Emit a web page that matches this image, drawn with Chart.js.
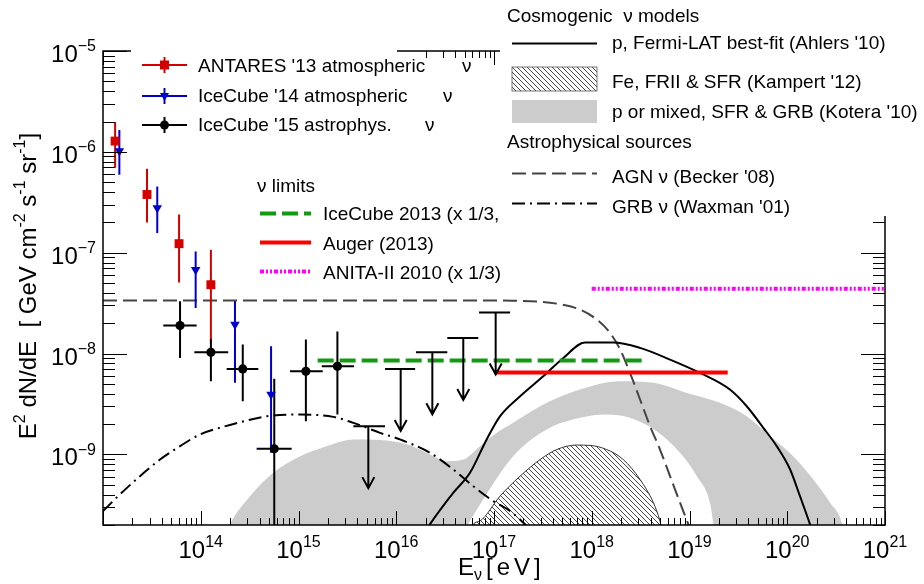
<!DOCTYPE html>
<html>
<head>
<meta charset="utf-8">
<script src="https://cdn.jsdelivr.net/npm/chart.js@4.4.1/dist/chart.umd.min.js"></script>
<style>
  html, body { margin: 0; padding: 0; background: #fff; }
</style>
</head>
<body>
<canvas id="fluxChart" width="924" height="584"></canvas>
<script>
// ─────────────────────────────────────────────
// Data (E in eV, E^2 dN/dE in GeV cm^-2 s^-1 sr^-1)
// ─────────────────────────────────────────────
const antaresE   = [1.33e13, 2.82e13, 6.0e13, 1.27e14];
const antaresF   = [1.28e-6, 3.78e-7, 1.23e-7, 4.82e-8];
const antaresFHi = [1.98e-6, 6.79e-7, 2.39e-7, 1.07e-7];
const antaresFLo = [6.95e-7, 2.0e-7, 5.08e-8, 1.29e-8];

const ic14E   = [1.47e13, 3.59e13, 8.87e13, 2.24e14, 5.24e14];
const ic14F   = [1.02e-6, 2.77e-7, 6.79e-8, 1.94e-8, 3.93e-9];
const ic14FHi = [1.65e-6, 4.54e-7, 1.03e-7, 3.30e-8, 1.18e-8];
const ic14FLo = [5.92e-7, 1.57e-7, 2.83e-8, 5.13e-9, 1.04e-9];

const ic15E   = [6.14e13, 1.27e14, 2.69e14, 5.65e14, 1.19e15, 2.50e15];
const ic15ELo = [4.14e13, 8.6e13, 1.84e14, 3.73e14, 8.19e14, 1.73e15];
const ic15EHi = [9.08e13, 1.91e14, 3.88e14, 8.51e14, 1.77e15, 3.70e15];
const ic15F   = [1.90e-8, 1.03e-8, 7.05e-9, 1.14e-9, 6.68e-9, 7.48e-9];
const ic15FHi = [3.30e-8, 1.4e-8, 1.23e-8, 5.62e-9, 1.38e-8, 1.66e-8];
const ic15FLo = [9.06e-9, 5.32e-9, 3.37e-9, 1.0e-10, 2.14e-9, 2.49e-9];

// IceCube '15 upper limits
const ulE   = [5.18e15, 1.11e16, 2.34e16, 4.85e16, 1.04e17];
const ulELo = [3.64e15, 7.67e15, 1.59e16, 3.33e16, 7.03e16];
const ulEHi = [7.67e15, 1.56e16, 3.33e16, 6.90e16, 1.46e17];
const ulF   = [1.91e-9, 7.05e-9, 1.03e-8, 1.43e-8, 2.56e-8];

// nu limits
const ic13E  = [1.57e15, 3.37e18];
const ic13F  = [8.53e-9, 8.53e-9];
const augerE = [1.02e17, 2.46e19];
const augerF = [6.49e-9, 6.49e-9];
const anitaE = [1.0e18, 1.0e21];
const anitaF = [4.40e-8, 4.40e-8];

// Cosmogenic models
const ahlersE = [2.0e16, 2.21e16, 3.84e16, 5.68e16, 8.41e16, 1.15e17, 1.85e17, 3.19e17, 5.12e17, 8.53e17,
                 1.66e18, 3.12e18, 6.32e18, 1.28e19, 2.59e19, 3.85e19, 5.69e19, 7.80e19, 1.07e20, 1.35e20, 1.71e20, 1.86e20];
const ahlersF = [1.74e-10, 2.03e-10, 4.18e-10, 6.59e-10, 1.41e-9, 2.39e-9, 3.78e-9, 5.96e-9, 9.06e-9, 1.29e-8,
                 1.29e-8, 1.14e-8, 8.73e-9, 6.44e-9, 4.41e-9, 3.01e-9, 1.84e-9, 1.21e-9, 7.10e-10, 3.86e-10, 2.03e-10, 1.58e-10];

const kampertE = [5.89e16, 6.14e16, 7.19e16, 1.15e17, 1.85e17, 2.96e17, 4.38e17, 7.01e17, 9.59e17, 1.42e18,
                  2.10e18, 3.12e18, 4.27e18, 4.99e18, 5.25e18];
const kampertF = [1.78e-10, 2.03e-10, 2.19e-10, 3.86e-10, 6.10e-10, 8.91e-10, 1.12e-9, 1.24e-9, 1.23e-9, 1.12e-9,
                  8.91e-10, 5.65e-10, 3.33e-10, 2.19e-10, 1.78e-10];

const koteraHiE = [1.90e14, 1.99e14, 3.19e14, 5.52e14, 1.04e15, 1.94e15, 3.64e15, 6.82e15, 1.28e16, 2.21e16,
                   3.28e16, 4.85e16, 7.19e16, 1.07e17, 1.57e17, 3.46e17, 7.59e17, 1.95e18, 4.27e18, 9.35e18,
                   2.05e19, 3.85e19, 6.67e19, 1.15e20, 1.85e20, 2.74e20, 3.61e20, 3.80e20];
const koteraHiF = [1.81e-10, 2.03e-10, 3.86e-10, 6.59e-10, 9.62e-10, 1.21e-9, 1.41e-9, 1.39e-9, 1.26e-9, 1.0e-9,
                   8.59e-10, 8.91e-10, 1.21e-9, 1.64e-9, 2.06e-9, 3.25e-9, 4.41e-9, 5.32e-9, 5.13e-9, 4.08e-9,
                   3.25e-9, 2.39e-9, 1.52e-9, 9.62e-10, 5.65e-10, 3.33e-10, 2.11e-10, 1.62e-10];
const koteraLoE = [5.05e16, 7.19e16, 1.57e17, 3.46e17, 7.59e17, 1.42e18, 2.46e18, 4.61e18, 8.0e18, 1.19e19,
                   1.62e19, 1.75e19, 1.82e19];
const koteraLoF = [1.81e-10, 3.20e-10, 9.62e-10, 1.77e-9, 2.31e-9, 2.49e-9, 2.31e-9, 1.70e-9, 1.04e-9, 6.10e-10,
                   3.33e-10, 2.11e-10, 1.62e-10];

// Astrophysical sources
const agnE = [1.0e13, 7.19e16, 1.56e17, 4.38e17, 7.59e17, 1.13e18, 1.54e18, 1.95e18, 2.46e18, 3.12e18,
              3.95e18, 4.99e18, 6.32e18, 8.0e18, 9.73e18, 1.07e19];
const agnF = [3.37e-8, 3.37e-8, 3.35e-8, 3.13e-8, 2.73e-8, 2.17e-8, 1.60e-8, 1.10e-8, 6.44e-9, 3.51e-9,
              1.91e-9, 1.12e-9, 6.11e-10, 3.33e-10, 2.03e-10, 1.58e-10];

const grbE = [1.0e13, 1.49e13, 2.39e13, 3.83e13, 6.14e13, 9.82e13, 1.57e14, 2.52e14, 4.73e14, 1.04e15,
              2.27e15, 3.64e15, 6.82e15, 1.09e16, 2.21e16, 3.84e16, 6.14e16, 9.84e16, 1.46e17, 2.08e17, 2.95e17];
const grbF = [2.75e-10, 4.02e-10, 6.10e-10, 8.91e-10, 1.21e-9, 1.58e-9, 1.84e-9, 2.09e-9, 2.39e-9, 2.49e-9,
              2.36e-9, 2.06e-9, 1.64e-9, 1.41e-9, 1.04e-9, 7.10e-10, 4.85e-10, 3.45e-10, 2.75e-10, 2.03e-10, 1.45e-10];

// Axis decades carrying a label
const xLabelExps = ["14", "15", "16", "17", "18", "19", "20", "21"];
const yLabelExps = ["-9", "-8", "-7", "-6", "-5"];

// ─────────────────────────────────────────────
// Styles
// ─────────────────────────────────────────────
const FONT   = "'Liberation Sans', Arial, Helvetica, sans-serif";
const RED_D  = "#d40000";
const BLUE   = "#0000cc";
const GREEN  = "#139a13";
const RED    = "#ff0000";
const MAG    = "#ff00ff";
const GREY   = "#cccccc";
const DASH_AGN = [14, 6];
const DASH_GRB = [13, 5, 2, 5];
const DASH_IC  = [16, 6];
const DASH_ANI = [4, 2, 2, 2, 2, 2];
const ARROW_LEN = 62;

const pts = (xs, ys) => xs.map((x, i) => ({ x, y: ys[i] }));

function makeHatch() {
  const c = document.createElement("canvas");
  c.width = 5; c.height = 5;
  const g = c.getContext("2d");
  g.strokeStyle = "#333";
  g.lineWidth = 0.9;
  g.beginPath();
  g.moveTo(-1, -1); g.lineTo(6, 6);
  g.moveTo(-1, 4);  g.lineTo(1, 6);
  g.moveTo(4, -1);  g.lineTo(6, 1);
  g.stroke();
  return g.createPattern(c, "repeat");
}
const hatch = makeHatch();

// ─────────────────────────────────────────────
// Rich text helpers (superscript / subscript)
// ─────────────────────────────────────────────
function richWidth(ctx, parts, size) {
  let w = 0;
  for (const [t, k] of parts) {
    ctx.font = `${k ? Math.round(size * 0.65) : size}px ${FONT}`;
    w += ctx.measureText(t).width;
  }
  return w;
}
function drawRich(ctx, parts, x, y, size) {
  let cx = x;
  for (const [t, k] of parts) {
    ctx.font = `${k ? Math.round(size * 0.65) : size}px ${FONT}`;
    const dy = k === "sup" ? -size * 0.45 : k === "sub" ? size * 0.22 : 0;
    ctx.fillText(t, cx, y + dy);
    cx += ctx.measureText(t).width;
  }
  return cx - x;
}

// ─────────────────────────────────────────────
// Error bars + upper limits (drawn before the markers)
// ─────────────────────────────────────────────
function drawErrors(chart) {
  const { ctx, chartArea: a } = chart;
  const sx = chart.scales.x, sy = chart.scales.y;
  const X = v => sx.getPixelForValue(v), Y = v => sy.getPixelForValue(v);
  ctx.save();
  ctx.beginPath();
  ctx.rect(a.left, a.top, a.right - a.left, a.bottom - a.top);
  ctx.clip();
  ctx.lineWidth = 2;
  ctx.setLineDash([]);

  const vbars = (E, lo, hi, color) => {
    ctx.strokeStyle = color;
    ctx.beginPath();
    E.forEach((e, i) => { ctx.moveTo(X(e), Y(lo[i])); ctx.lineTo(X(e), Y(hi[i])); });
    ctx.stroke();
  };
  vbars(antaresE, antaresFLo, antaresFHi, RED_D);
  vbars(ic14E, ic14FLo, ic14FHi, BLUE);
  vbars(ic15E, ic15FLo, ic15FHi, "#000");
  ctx.beginPath();
  ic15E.forEach((e, i) => { ctx.moveTo(X(ic15ELo[i]), Y(ic15F[i])); ctx.lineTo(X(ic15EHi[i]), Y(ic15F[i])); });
  ctx.stroke();

  // upper limits
  ctx.beginPath();
  ulE.forEach((e, i) => {
    const px = X(e), py = Y(ulF[i]);
    ctx.moveTo(X(ulELo[i]), py); ctx.lineTo(X(ulEHi[i]), py);
    ctx.moveTo(px, py); ctx.lineTo(px, py + ARROW_LEN);
    ctx.moveTo(px - 6, py + ARROW_LEN - 11); ctx.lineTo(px, py + ARROW_LEN); ctx.lineTo(px + 6, py + ARROW_LEN - 11);
  });
  ctx.stroke();
  ctx.restore();
}

const errorBarPlugin = {
  id: "errorBars",
  beforeDatasetsDraw(chart) { chart.$errDone = false; },
  beforeDatasetDraw(chart, args) {
    const ds = chart.data.datasets[args.index];
    if (!chart.$errDone && ds.showLine === false) {
      drawErrors(chart);
      chart.$errDone = true;
    }
  }
};

// ─────────────────────────────────────────────
// Frame, ticks, labels, legends
// ─────────────────────────────────────────────
function lineSample(ctx, x1, x2, y, color, width, dash) {
  ctx.save();
  ctx.strokeStyle = color; ctx.lineWidth = width; ctx.setLineDash(dash || []);
  ctx.beginPath(); ctx.moveTo(x1, y); ctx.lineTo(x2, y); ctx.stroke();
  ctx.restore();
}

function markerSample(ctx, x, y, color, kind) {
  lineSample(ctx, 142, 187, y, color, 2);
  ctx.save();
  ctx.strokeStyle = color; ctx.fillStyle = color; ctx.lineWidth = 2;
  ctx.beginPath(); ctx.moveTo(x, y - 8); ctx.lineTo(x, y + 8); ctx.stroke();
  ctx.beginPath();
  if (kind === "rect") ctx.rect(x - 4.5, y - 4.5, 9, 9);
  else if (kind === "tri") { ctx.moveTo(x - 4.5, y - 3); ctx.lineTo(x + 4.5, y - 3); ctx.lineTo(x, y + 5); ctx.closePath(); }
  else ctx.arc(x, y, 4.5, 0, Math.PI * 2);
  ctx.fill();
  ctx.restore();
}

const framePlugin = {
  id: "frame",
  afterDraw(chart) {
    const { ctx, chartArea: a } = chart;
    const sx = chart.scales.x, sy = chart.scales.y;
    ctx.save();
    ctx.strokeStyle = "#000";
    ctx.fillStyle = "#000";
    ctx.lineWidth = 1;
    ctx.setLineDash([]);

    // ticks
    ctx.beginPath();
    for (let d = 13; d <= 21; d++) {
      for (let k = 1; k <= 9; k++) {
        const v = k * Math.pow(10, d);
        if (v > sx.max * 1.0001) break;
        const px = Math.round(sx.getPixelForValue(v)) + 0.5;
        const len = k === 1 ? 14 : 7;
        ctx.moveTo(px, a.bottom); ctx.lineTo(px, a.bottom - len);
        ctx.moveTo(px, a.top); ctx.lineTo(px, a.top + len);
      }
    }
    for (let d = -10; d <= -5; d++) {
      for (let k = 1; k <= 9; k++) {
        const v = k * Math.pow(10, d);
        if (v < sy.min * 0.999 || v > sy.max * 1.0001) continue;
        const py = Math.round(sy.getPixelForValue(v)) + 0.5;
        const len = k === 1 ? 24 : 12;
        ctx.moveTo(a.left, py); ctx.lineTo(a.left + len, py);
        ctx.moveTo(a.right, py); ctx.lineTo(a.right - len, py);
      }
    }
    ctx.stroke();

    // frame
    ctx.lineWidth = 1.5;
    ctx.strokeRect(a.left, a.top, a.right - a.left, a.bottom - a.top);

    // tick labels
    ctx.textBaseline = "alphabetic";
    ctx.textAlign = "left";
    xLabelExps.forEach(e => {
      const parts = [["10", ""], [e, "sup"]];
      const w = richWidth(ctx, parts, 24);
      const px = sx.getPixelForValue(Math.pow(10, +e));
      drawRich(ctx, parts, px - w / 2, a.bottom + 33, 24);
    });
    yLabelExps.forEach(e => {
      const parts = [["10", ""], [e.replace("-", "\u2212"), "sup"]];
      const w = richWidth(ctx, parts, 24);
      const py = sy.getPixelForValue(Math.pow(10, +e));
      drawRich(ctx, parts, 96 - w, py + 11, 24);
    });

    // axis titles
    drawRich(ctx, [["E", ""], ["\u03bd", "sub"]], 458, 575, 24);
    ctx.save();
    ctx.font = `24px ${FONT}`;
    ctx.letterSpacing = "4px";
    ctx.fillText("[eV]", 486, 575);
    ctx.restore();

    const yTitle = [["E", ""], ["2", "sup"], [" dN/dE  [ GeV cm", ""], ["-2", "sup"], [" s", ""],
                    ["-1", "sup"], [" sr", ""], ["-1", "sup"], ["]", ""]];
    ctx.save();
    ctx.translate(36, 286);
    ctx.rotate(-Math.PI / 2);
    const tw = richWidth(ctx, yTitle, 24);
    drawRich(ctx, yTitle, -tw / 2, 0, 24);
    ctx.restore();

    // legend boxes hide the frame behind them
    ctx.fillStyle = "#fff";
    ctx.fillRect(131, 38, 266, 102);
    ctx.fillRect(500, 0, 424, 216);
    ctx.fillStyle = "#000";

    // legend: measurements
    markerSample(ctx, 164.5, 65, RED_D, "rect");
    markerSample(ctx, 164.5, 96, BLUE, "tri");
    markerSample(ctx, 164.5, 125, "#000", "circ");
    ctx.font = `19px ${FONT}`;
    ctx.fillText("ANTARES '13 atmospheric", 198, 72);
    ctx.fillText("\u03bd", 462, 72);
    ctx.fillText("IceCube '14 atmospheric", 198, 102);
    ctx.fillText("\u03bd", 443, 102);
    ctx.fillText("IceCube '15 astrophys.", 198, 131);
    ctx.fillText("\u03bd", 425, 131);

    // legend: nu limits
    ctx.fillText("\u03bd limits", 257, 192);
    lineSample(ctx, 260, 311, 213.5, GREEN, 4, DASH_IC);
    lineSample(ctx, 260, 311, 242.5, RED, 4);
    lineSample(ctx, 260, 311, 271.5, MAG, 4, DASH_ANI);
    ctx.fillStyle = "#000";
    ctx.font = `19px ${FONT}`;
    ctx.fillText("IceCube 2013 (x 1/3,", 323, 220);
    ctx.fillText("Auger (2013)", 323, 250);
    ctx.fillText("ANITA-II 2010 (x 1/3)", 323, 279);

    // legend: models
    ctx.fillText("Cosmogenic  \u03bd models", 507, 22);
    lineSample(ctx, 512, 597, 43.5, "#000", 2);
    ctx.fillStyle = hatch;
    ctx.fillRect(512, 67, 85, 24);
    ctx.lineWidth = 0.8; ctx.strokeStyle = "#555";
    ctx.strokeRect(512, 67, 85, 24);
    ctx.fillStyle = GREY;
    ctx.fillRect(512, 100, 85, 23);
    ctx.fillStyle = "#000";
    ctx.fillText("p, Fermi-LAT best-fit (Ahlers '10)", 612, 49);
    ctx.fillText("Fe, FRII & SFR (Kampert '12)", 612, 88);
    ctx.fillText("p or mixed, SFR & GRB (Kotera '10)", 612, 118);
    ctx.fillText("Astrophysical sources", 507, 148);
    lineSample(ctx, 512, 597, 173.5, "#444", 2, DASH_AGN);
    lineSample(ctx, 512, 597, 203.5, "#000", 2, DASH_GRB);
    ctx.fillText("AGN \u03bd (Becker '08)", 612, 183);
    ctx.fillText("GRB \u03bd (Waxman '01)", 612, 213);
    ctx.restore();
  }
};

// ─────────────────────────────────────────────
// Chart
// ─────────────────────────────────────────────
const curve = (label, E, F, extra) => Object.assign({
  label, data: pts(E, F), pointRadius: 0, fill: false, borderWidth: 2,
  cubicInterpolationMode: "monotone", clip: 0
}, extra);

new Chart(document.getElementById("fluxChart"), {
  type: "line",
  data: {
    datasets: [
      { label: "ANTARES '13 atmospheric", data: pts(antaresE, antaresF), showLine: false,
        pointStyle: "rect", pointRadius: 6.3, backgroundColor: RED_D, borderColor: RED_D, borderWidth: 0, order: 2 },
      { label: "IceCube '14 atmospheric", data: pts(ic14E, ic14F), showLine: false,
        pointStyle: "triangle", rotation: 180, pointRadius: 5.5, backgroundColor: BLUE, borderColor: BLUE, borderWidth: 0, order: 1 },
      { label: "IceCube '15 astrophys.", data: pts(ic15E, ic15F), showLine: false,
        pointStyle: "circle", pointRadius: 4.6, backgroundColor: "#000", borderColor: "#000", borderWidth: 0, order: 0 },

      curve("Kotera upper", koteraHiE, koteraHiF, { fill: "start", backgroundColor: GREY, borderWidth: 0, borderColor: GREY, order: 20 }),
      curve("Kotera lower", koteraLoE, koteraLoF, { fill: "start", backgroundColor: "#fff", borderWidth: 0, borderColor: "#fff", order: 19 }),
      curve("Kampert", kampertE, kampertF, { fill: "start", backgroundColor: hatch, borderWidth: 1, borderColor: "#333", order: 18 }),
      curve("AGN", agnE, agnF, { borderColor: "#444", borderDash: DASH_AGN, order: 17 }),
      curve("GRB", grbE, grbF, { borderColor: "#000", borderDash: DASH_GRB, order: 16 }),
      curve("Ahlers", ahlersE, ahlersF, { borderColor: "#000", order: 15 }),
      curve("IceCube 2013", ic13E, ic13F, { borderColor: GREEN, borderWidth: 4, borderDash: DASH_IC, order: 14 }),
      curve("Auger 2013", augerE, augerF, { borderColor: RED, borderWidth: 4, order: 13 }),
      curve("ANITA-II 2010", anitaE, anitaF, { borderColor: MAG, borderWidth: 4, borderDash: DASH_ANI, order: 12 }),
    ]
  },
  options: {
    responsive: false,
    animation: false,
    layout: { padding: { left: 103, top: 51, right: 39, bottom: 59 } },
    scales: {
      x: { type: "logarithmic", min: 1e13, max: 1e21, display: false },
      y: { type: "logarithmic", min: 2e-10, max: 1e-5, display: false }
    },
    plugins: { legend: { display: false }, tooltip: { enabled: false } },
    events: []
  },
  plugins: [errorBarPlugin, framePlugin]
});
</script>
</body>
</html>
